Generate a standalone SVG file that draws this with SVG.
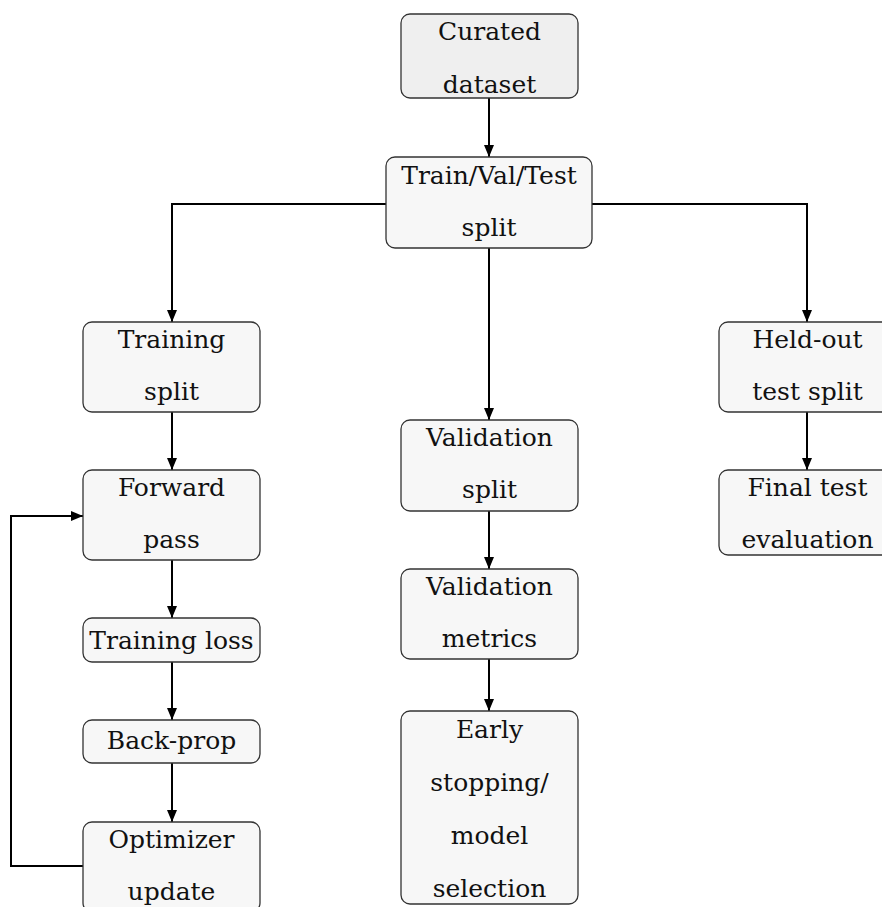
<svg xmlns="http://www.w3.org/2000/svg" width="882" height="907" viewBox="0 0 882 907">
<style>
.box{fill:#f7f7f7;stroke:#333;stroke-width:1.3}
.src{fill:#efefef}
text{font-family:"DejaVu Serif","Liberation Serif",serif;font-size:25px;fill:#111;text-anchor:middle}
.edge{fill:none;stroke:#000;stroke-width:2;marker-end:url(#ah)}
</style>
<defs>
<marker id="ah" markerUnits="userSpaceOnUse" markerWidth="13" markerHeight="11" refX="12" refY="5.5" orient="auto">
<path d="M0,0.5 L12,5.5 L0,10.5 z" fill="#000"/>
</marker>
</defs>
<rect width="882" height="907" fill="#fff"/>
<g id="connectors">
<path class="edge" d="M489 98 V157"/>
<path class="edge" d="M386 204 H172 V322"/>
<path class="edge" d="M592 204 H807 V322"/>
<path class="edge" d="M489 248 V420"/>
<path class="edge" d="M172 412 V470"/>
<path class="edge" d="M172 560 V618"/>
<path class="edge" d="M172 662 V720"/>
<path class="edge" d="M172 763 V822"/>
<path class="edge" d="M83 866 H11 V516 H83"/>
<path class="edge" d="M807 412 V470"/>
<path class="edge" d="M489 511 V569"/>
<path class="edge" d="M489 659 V711"/>
</g>
<g id="curated"><rect class="box src" x="401" y="14" width="177" height="84" rx="9"/><text x="489.5" y="40">Curated</text><text x="489.5" y="93">dataset</text></g>
<g id="split"><rect class="box" x="386" y="157" width="206" height="91" rx="9"/><text x="489" y="184">Train/Val/Test</text><text x="489" y="236">split</text></g>
<g id="train_split"><rect class="box" x="83" y="322" width="177" height="90" rx="9"/><text x="171.5" y="348">Training</text><text x="171.5" y="400">split</text></g>
<g id="heldout"><rect class="box" x="719" y="322" width="177" height="90" rx="9"/><text x="807.5" y="348">Held-out</text><text x="807.5" y="400">test split</text></g>
<g id="val_split"><rect class="box" x="401" y="420" width="177" height="91" rx="9"/><text x="489.5" y="446">Validation</text><text x="489.5" y="498">split</text></g>
<g id="forward"><rect class="box" x="83" y="470" width="177" height="90" rx="9"/><text x="171.5" y="496">Forward</text><text x="171.5" y="548">pass</text></g>
<g id="final_test"><rect class="box" x="719" y="470" width="177" height="85" rx="9"/><text x="807.5" y="496">Final test</text><text x="807.5" y="548">evaluation</text></g>
<g id="val_metrics"><rect class="box" x="401" y="569" width="177" height="90" rx="9"/><text x="489.5" y="595">Validation</text><text x="489.5" y="647">metrics</text></g>
<g id="train_loss"><rect class="box" x="83" y="618" width="177" height="44" rx="9"/><text x="171.5" y="649">Training loss</text></g>
<g id="backprop"><rect class="box" x="83" y="720" width="177" height="43" rx="9"/><text x="171.5" y="749">Back-prop</text></g>
<g id="early_stop"><rect class="box" x="401" y="711" width="177" height="193" rx="9"/><text x="489.5" y="738">Early</text><text x="489.5" y="791">stopping/</text><text x="489.5" y="844">model</text><text x="489.5" y="897">selection</text></g>
<g id="optimizer"><rect class="box" x="83" y="822" width="177" height="90" rx="9"/><text x="171.5" y="848">Optimizer</text><text x="171.5" y="900">update</text></g>
</svg>
